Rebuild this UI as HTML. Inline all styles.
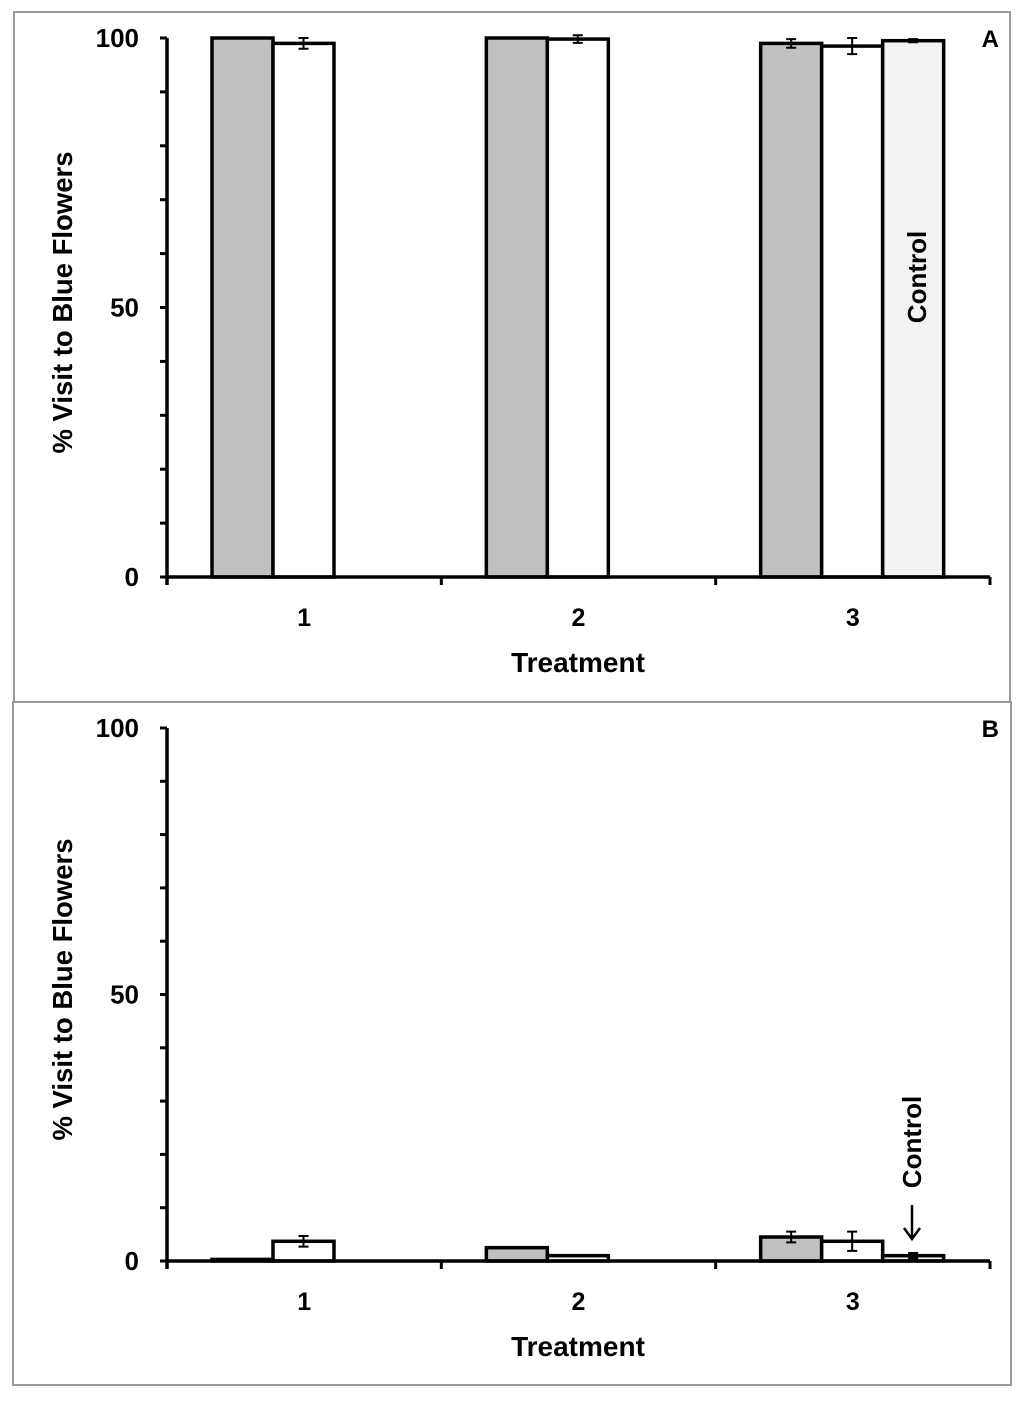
<!DOCTYPE html>
<html><head><meta charset="utf-8"><style>
body{margin:0;background:#fff;}
svg text{font-family:"Liberation Sans",Arial,sans-serif;font-weight:bold;fill:#000;}
</style></head><body>
<svg id="chart" width="1024" height="1397" xmlns="http://www.w3.org/2000/svg">
<rect x="14" y="12" width="996" height="690" fill="none" stroke="#999" stroke-width="2"/>
<rect x="13" y="702" width="998" height="683" fill="none" stroke="#999" stroke-width="2"/>
</svg>
<script>
const categories=["1","2","3"];
const yTicks=[0,50,100];
const seriesA_gray=[100,100,99];
const seriesA_white=[99,99.8,98.5];
const seriesA_control=[null,null,99.5];
const errA_gray=[0,0,0.8];
const errA_white=[1,0.7,1.5];
const errA_control=[0,0,0.3];
const seriesB_gray=[0.3,2.5,4.5];
const seriesB_white=[3.7,1,3.7];
const seriesB_control=[null,null,1];
const errB_gray=[0,0,1];
const errB_white=[1,0,1.8];
const errB_control=[0,0,0.5];

const NS="http://www.w3.org/2000/svg";
const svg=document.getElementById('chart');
function mk(tag,attrs,parent){const e=document.createElementNS(NS,tag);for(const k in attrs)e.setAttribute(k,attrs[k]);(parent||svg).appendChild(e);return e;}

function panel(p){
  const g=mk('g',{});
  
  
  const x0=167,x1=990,gw=(x1-x0)/categories.length;
  const y=v=>p.y0-(v/100)*(p.y0-p.y100);
  for(let v=0;v<=100;v+=10){const t=mk('line',{x1:x0-7,x2:x0,y1:y(v),y2:y(v),stroke:'#000','stroke-width':3},g);
    }
  yTicks.forEach(v=>{const t=mk('text',{x:139,y:y(v)+9,'text-anchor':'end','font-size':26},g);t.textContent=v;
    });
  const series=[[p.gray,p.eg,'#c0c0c0'],[p.white,p.ew,'#ffffff'],[p.ctrl,p.ec,'#f2f2f2']];
  categories.forEach((c,i)=>{
    const gs=x0+i*gw;
    series.forEach((s,j)=>{
      const v=s[0][i]; if(v==null) return;
      const bx=gs+45+j*61;
      const r=mk('rect',{x:bx,y:y(v),width:61,height:y(0)-y(v),fill:s[2],stroke:'#000','stroke-width':3.5},g);
      
      
      const e=s[1][i];
      if(e>0){const cx=bx+30.5;
        const ep=mk('path',{d:`M${cx-5} ${y(v+e)}H${cx+5}M${cx} ${y(v+e)}V${y(v-e)}M${cx-5} ${y(v-e)}H${cx+5}`,stroke:'#000','stroke-width':2,fill:'none'},g);
        }
    });
    const tl=mk('text',{x:gs+gw/2,y:p.y0+49,'text-anchor':'middle','font-size':25},g);tl.textContent=c;
    
    const sep=mk('line',{x1:gs+gw,x2:gs+gw,y1:p.y0,y2:p.y0+8,stroke:'#000','stroke-width':3},g);
    
  });
  const ax=mk('path',{d:`M${x0} ${p.y100}V${p.y0+8}M${x0} ${p.y0}H${x1}`,stroke:'#000','stroke-width':3.5,fill:'none'},g);
  
  const xt=mk('text',{x:578,y:p.y0+95,'text-anchor':'middle','font-size':28},g);xt.textContent='Treatment';
  
  const cy=(p.y0+p.y100)/2;
  const yt=mk('text',{x:0,y:0,'text-anchor':'middle','font-size':27.5,transform:`translate(72 ${cy-5}) rotate(-90)`},g);yt.textContent='% Visit to Blue Flowers';
  
  const lt=mk('text',{x:999,y:p.y100+9,'text-anchor':'end','font-size':24},g);lt.textContent=p.id.toUpperCase();
  
  return g;
}
panel({id:'a',y0:577,y100:38,gray:seriesA_gray,white:seriesA_white,ctrl:seriesA_control,eg:errA_gray,ew:errA_white,ec:errA_control});
panel({id:'b',y0:1261,y100:728,gray:seriesB_gray,white:seriesB_white,ctrl:seriesB_control,eg:errB_gray,ew:errB_white,ec:errB_control});
let t=mk('text',{x:0,y:0,'text-anchor':'middle','font-size':26,transform:'translate(926 277) rotate(-90)'});t.textContent='Control';

t=mk('text',{x:0,y:0,'text-anchor':'middle','font-size':26,transform:'translate(921 1142) rotate(-90)'});t.textContent='Control';

t=mk('path',{d:'M912 1205V1238M904 1228L912 1239L920 1228',stroke:'#000','stroke-width':2.5,fill:'none'});

</script>
</body></html>
